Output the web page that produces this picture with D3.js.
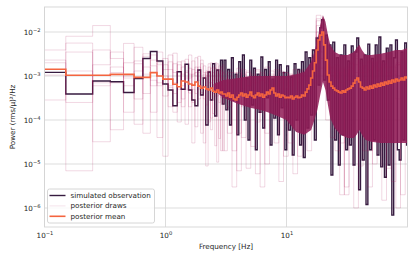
<!DOCTYPE html>
<html>
<head>
<meta charset="utf-8">
<script src="https://cdn.jsdelivr.net/npm/d3@7"></script>
<style>
  html, body { margin: 0; padding: 0; background: #fff; }
  svg { display: block; font-family: 'DejaVu Sans', sans-serif; }
</style>
</head>
<body>
<svg id="chart" width="415" height="260"></svg>
<script>
// ---- data (power in (rms/mean)^2/Hz) ----
// observation, f = 0.1 ... 3.0 Hz in steps of 0.1
const obsLow = [1.21e-3, 3.9e-4, 7.7e-4, 7.4e-4, 4.2e-4, 8.7e-4, 2.5e-3, 3.6e-3, 2.2e-3, 6.6e-4,
  4.8e-4, 2.1e-4, 1.25e-3, 5.0e-4, 1.85e-3, 4.8e-4, 2.85e-4, 2.1e-4, 1.37e-3, 3.7e-4,
  9e-4, 7.7e-5, 1.23e-3, 2.85e-4, 1.9e-3, 1.23e-4, 1.37e-3, 4.3e-4, 2.3e-3, 2.3e-4];
// observation above 3 Hz, log spaced up to 100 Hz
const obsHigh = [2.3e-3, 1.7e-4, 1.4e-3, 7.7e-5, 2.6e-3, 2.85e-4, 1.1e-3, 4.6e-5, 2.1e-3, 3.7e-4,
  3.0e-3, 1.0e-4, 9.0e-4, 3.5e-5, 2.3e-3, 2.2e-4, 1.5e-3, 2.1e-5, 1.1e-3, 1.5e-4,
  2.7e-3, 6.6e-5, 1.4e-3, 3.2e-4, 2.1e-3, 2.7e-5, 8.5e-4, 1.1e-4, 2.3e-3, 4.6e-5,
  1.8e-3, 1.9e-4, 1.2e-3, 2.1e-5, 1.7e-3, 5.9e-5, 9.5e-4, 1.6e-5, 1.9e-3, 1.0e-4,
  1.4e-3, 2.7e-5, 2.1e-3, 1.4e-5, 3.5e-3, 6.6e-5, 2.6e-3, 1.3e-4, 3.9e-3, 3.5e-5,
  7.3e-3, 6.2e-4, 1.25e-2, 1.9e-2, 8.1e-4, 8.5e-3, 2.85e-4, 5.1e-3, 5.6e-6, 5.9e-3,
  3.5e-5, 2.6e-3, 9.5e-6, 3.0e-3, 4.6e-5, 5.1e-3, 2.1e-5, 2.2e-3, 2.7e-5, 4.8e-3,
  9.5e-6, 3.5e-3, 7.3e-3, 2.6e-6, 2.4e-3, 1.23e-5, 3.0e-3, 1.2e-6, 5.3e-3, 2.1e-5,
  2.5e-3, 3.5e-5, 5.1e-3, 1.6e-5, 7.7e-3, 8.6e-6, 2.2e-3, 5.0e-6, 4.3e-3, 9.5e-6,
  5.1e-3, 6.9e-7, 2.6e-3, 6.6e-3, 2.1e-5, 1.23e-5, 3.5e-3, 3.5e-5, 5.6e-3, 2.7e-5];

const meanLow = [1.42e-3, 1.04e-3, 1.04e-3, 1.09e-3, 1.09e-3, 9.3e-4, 9.3e-4, 1.19e-3, 1.0e-3, 8.5e-4,
  8.5e-4, 6.5e-4, 5.7e-4, 7.7e-4, 7.3e-4, 6.6e-4, 6.2e-4, 7.3e-4, 5.9e-4, 5.3e-4,
  5.6e-4, 5.1e-4, 4.8e-4, 5.3e-4, 4.5e-4, 4.3e-4, 4.8e-4, 4.1e-4, 4.3e-4, 3.9e-4];
const meanHigh = [3.9e-4, 3.5e-4, 4.1e-4, 3.3e-4, 3.7e-4, 3.0e-4, 2.85e-4, 3.3e-4, 3.7e-4, 4.1e-4,
  3.5e-4, 3.9e-4, 3.3e-4, 3.7e-4, 4.3e-4, 3.5e-4, 3.2e-4, 3.7e-4, 4.1e-4, 3.5e-4,
  3.9e-4, 3.3e-4, 3.7e-4, 4.3e-4, 3.9e-4, 4.8e-4, 5.3e-4, 4.1e-4, 3.5e-4, 3.9e-4,
  3.3e-4, 3.7e-4, 3.5e-4, 3.2e-4, 3.3e-4, 3.2e-4, 3.5e-4, 3.0e-4, 3.3e-4, 3.5e-4,
  3.2e-4, 3.3e-4, 3.7e-4, 3.5e-4, 4.3e-4, 5.1e-4, 6.2e-4, 9.0e-4, 1.3e-3, 2.0e-3,
  3.9e-3, 6.6e-3, 8.5e-3, 1.0e-2, 5.1e-3, 2.3e-3, 1.05e-3, 7.3e-4, 5.9e-4, 5.3e-4,
  4.8e-4, 4.6e-4, 4.3e-4, 4.1e-4, 4.6e-4, 4.3e-4, 4.8e-4, 5.1e-4, 5.3e-4, 5.9e-4,
  6.9e-4, 8.1e-4, 9.0e-4, 7.3e-4, 5.6e-4, 5.3e-4, 4.8e-4, 5.6e-4, 5.1e-4, 5.9e-4,
  5.3e-4, 6.2e-4, 5.6e-4, 6.6e-4, 5.9e-4, 6.9e-4, 6.2e-4, 7.3e-4, 6.6e-4, 7.7e-4,
  6.9e-4, 8.1e-4, 7.3e-4, 8.5e-4, 7.7e-4, 8.1e-4, 9.0e-4, 8.1e-4, 9.5e-4, 9.0e-4];

// a few posterior draws: 30 values on the 0.1 Hz grid + 40 log spaced values above 3 Hz
const drawsLow = [
  [3.9e-3, 8e-3, 1.4e-2, 2.5e-3, 6e-4, 2.2e-3, 4e-4, 3.0e-3, 1.8e-3, 3.5e-4, 2.1e-3, 1.2e-3, 9e-5, 1.6e-3, 2.4e-3, 4.1e-4, 1.1e-3, 2.6e-3, 3.0e-4, 9e-4, 1.7e-3, 2.2e-4, 1.3e-3, 6e-5, 8e-4, 1.5e-3, 3.5e-4, 1.1e-3, 2.0e-5, 9e-4],
  [2.3e-3, 7e-6, 3.9e-3, 1.2e-3, 5.5e-3, 3e-4, 1.6e-3, 8e-4, 4e-5, 2.5e-3, 6e-4, 1.9e-3, 1.0e-3, 2e-4, 1.3e-3, 3.0e-3, 5e-4, 7e-5, 1.6e-3, 4.2e-4, 3e-5, 1.2e-3, 7e-4, 2.0e-3, 1.4e-4, 6e-4, 1.3e-3, 2.5e-4, 9e-4, 1.8e-3],
  [1.4e-3, 5.6e-3, 3.2e-5, 7e-4, 2.0e-3, 4.5e-3, 1.1e-3, 1.5e-4, 3.5e-3, 1.0e-3, 2.0e-4, 3.3e-3, 5e-4, 1.1e-3, 8e-5, 9e-4, 2.2e-3, 1.0e-3, 5e-4, 1.9e-3, 9e-4, 1.3e-3, 9e-5, 7e-4, 1.6e-3, 3.5e-4, 1.1e-5, 1.4e-3, 6e-4, 2.4e-4],
  [1.05e-3, 2.5e-4, 1.8e-3, 3.5e-3, 1.5e-4, 1.3e-3, 2.8e-3, 6e-4, 2.0e-3, 1.5e-5, 1.4e-3, 4e-4, 1.8e-3, 6e-4, 1.2e-3, 2e-4, 1.4e-3, 4e-4, 1.2e-3, 5e-5, 1.1e-3, 6e-4, 1.9e-3, 4.5e-4, 1.0e-3, 2.6e-5, 8e-4, 1.7e-3, 3.2e-4, 1.2e-3],
  [2.0e-3, 1.3e-3, 7e-4, 6e-5, 1.0e-3, 1.9e-3, 5e-5, 2.3e-3, 7e-4, 1.8e-3, 5.5e-4, 1.5e-4, 2.1e-3, 3e-4, 9e-4, 1.5e-3, 2.5e-4, 1.2e-3, 2.8e-3, 6e-4, 3e-4, 1.0e-3, 1.6e-3, 1.1e-4, 1.2e-3, 7e-4, 1.9e-3, 3.8e-5, 1.3e-3, 5e-4],
  [2.85e-4, 3.5e-3, 6e-4, 1.6e-3, 9e-4, 8e-5, 3.2e-3, 1.7e-3, 6e-4, 1.4e-3, 3.0e-3, 7e-4, 2.5e-4, 2.2e-3, 5e-4, 1.1e-3, 3e-5, 1.6e-3, 8e-4, 2.3e-3, 1.2e-3, 9e-6, 1.0e-3, 1.5e-3, 4e-4, 2.0e-3, 8e-4, 5e-4, 1.6e-3, 2e-5]
];
const drawsHigh = [
  [9e-4, 5e-5, 6e-4, 1.2e-3, 2e-4, 8e-6, 7e-4, 1.0e-3, 1.5e-4, 4e-4, 1.3e-3, 3e-5, 8e-4, 5e-4, 1.1e-3, 6e-5, 9e-4, 2e-4, 1.5e-3, 3e-3, 2.0e-2, 2.5e-3, 1.6e-3, 4e-5, 1.8e-3, 7e-4, 3e-6, 1.5e-3, 2.5e-3, 1.2e-3, 2e-5, 1.4e-3, 9e-4, 2.2e-3, 1.5e-6, 1.6e-3, 1.1e-3, 3e-4, 2.4e-3, 1.0e-3],
  [2e-5, 1.0e-3, 4e-4, 7e-6, 1.4e-3, 6e-4, 1.1e-3, 9e-5, 8e-4, 1.6e-3, 3e-4, 1.0e-3, 4e-6, 1.2e-3, 6e-4, 9e-4, 1.3e-3, 5e-5, 4e-4, 4e-3, 8e-3, 1.2e-2, 5e-4, 1.5e-3, 2e-5, 1.2e-3, 1.6e-3, 5e-4, 3e-3, 9e-6, 1.7e-3, 6e-4, 2.0e-3, 1.3e-3, 4e-5, 2.5e-3, 8e-4, 1.8e-3, 2e-6, 1.5e-3],
  [6e-4, 1.2e-3, 3e-6, 9e-4, 5e-4, 1.3e-3, 2.5e-5, 7e-4, 1.1e-3, 1e-5, 9e-4, 6e-4, 1.2e-3, 2e-4, 7e-4, 1.4e-3, 1.5e-5, 1.0e-3, 6e-4, 1.5e-3, 1.4e-2, 6e-3, 2.5e-3, 1.0e-3, 1.3e-3, 3e-5, 1.1e-3, 1.9e-3, 1.2e-3, 2.0e-3, 8e-4, 3e-6, 1.6e-3, 2.1e-3, 7e-4, 1.2e-3, 3e-5, 2.0e-3, 1.3e-3, 6e-4],
  [1.1e-3, 2e-4, 8e-4, 1.5e-3, 4e-5, 6e-4, 1.0e-3, 1.3e-3, 3e-6, 9e-4, 5e-4, 1.4e-3, 7e-4, 1.5e-5, 1.1e-3, 4e-4, 1.2e-3, 8e-4, 2e-5, 2.0e-3, 1.0e-2, 3.5e-3, 9e-4, 1.2e-3, 6e-4, 1.4e-3, 8e-4, 2.0e-3, 1.0e-6, 1.6e-3, 1.2e-3, 2.2e-3, 6e-5, 1.5e-3, 1.9e-3, 8e-6, 1.3e-3, 1.0e-3, 2.3e-3, 1.4e-3],
  [4e-4, 9e-4, 1.2e-3, 5e-5, 1.1e-3, 3e-4, 8e-4, 6e-6, 1.2e-3, 7e-4, 1.0e-3, 2.5e-4, 1.3e-3, 9e-4, 3e-5, 1.0e-3, 7e-4, 1.4e-3, 9e-4, 7e-4, 2.4e-2, 8e-3, 1.0e-4, 1.6e-3, 9e-4, 1.5e-3, 2e-6, 1.3e-3, 1.8e-3, 8e-4, 1.5e-3, 2.1e-3, 1.0e-5, 1.4e-3, 1.8e-3, 1.0e-3, 1.6e-3, 1e-6, 1.7e-3, 2.0e-3],
  [1.3e-3, 7e-4, 2e-5, 1.0e-3, 8e-4, 1.2e-3, 4e-4, 1.4e-3, 8e-4, 5e-5, 1.1e-3, 9e-4, 5e-4, 1.2e-3, 8e-4, 6e-6, 1.0e-3, 1.3e-3, 7e-4, 2.5e-3, 1.8e-2, 1.5e-3, 1.8e-3, 8e-4, 1.2e-3, 2e-6, 1.4e-3, 9e-4, 2.8e-3, 1.4e-3, 1.7e-3, 2e-5, 1.8e-3, 1.1e-3, 1.6e-3, 2.4e-3, 4e-6, 1.8e-3, 1.2e-3, 2.2e-3]
];

// where the many draws pile up at high frequency
const bandFreqs = [2.5, 3, 4, 5, 6, 7, 8, 10, 12, 14, 16, 17, 18, 19, 20, 21, 22, 23, 25, 28, 32, 36, 38, 40, 42, 45, 50, 60, 70, 80, 90, 100];
const bandTop = [6.6e-4, 8.1e-4, 9.0e-4, 1.0e-3, 1.0e-3, 1.0e-3, 1.0e-3, 1.0e-3, 1.1e-3, 1.23e-3, 2.1e-3, 3.5e-3, 6.6e-3, 1.44e-2, 2.4e-2, 1.7e-2, 8.5e-3, 5.1e-3, 3.5e-3, 3.0e-3, 3.0e-3, 3.5e-3, 4.3e-3, 5.1e-3, 3.9e-3, 3.0e-3, 3.0e-3, 3.2e-3, 3.5e-3, 3.9e-3, 3.9e-3, 4.3e-3];
const bandBottom = [4.8e-4, 3.2e-4, 2.3e-4, 1.9e-4, 1.7e-4, 1.5e-4, 1.3e-4, 1.0e-4, 5.3e-5, 4.6e-5, 5.9e-5, 1.0e-4, 1.7e-4, 3.7e-4, 7.3e-4, 4.8e-4, 2.2e-4, 1.1e-4, 6.6e-5, 4.6e-5, 3.9e-5, 3.9e-5, 4.6e-5, 5.9e-5, 4.6e-5, 3.5e-5, 3.2e-5, 3.0e-5, 3.0e-5, 3.0e-5, 3.0e-5, 3.0e-5];

const xTicks = [0.1, 1, 10];
const yTicks = [1e-6, 1e-5, 1e-4, 1e-3, 1e-2];
const legendLabels = ['simulated observation', 'posterior draws', 'posterior mean'];

// ---- grids ----
const lowFreqs = d3.range(1, 31).map(k => k / 10);
const geomGrid = (n, f0, f1) => d3.range(n).map(i => f0 * Math.pow(f1 / f0, i / (n - 1)));
const hiFreqs = geomGrid(obsHigh.length, 3.1, 100);
const drawHiFreqs = geomGrid(drawsHigh[0].length, 3.1, 100);

// ---- layout ----
const colors = { obs: '#371b40', draws: '#ad1759', band: '#8f1a55', mean: '#f4643f', grid: '#d4d4d4', text: '#262626' };
const margin = { left: 44.5, right: 407.5, top: 7, bottom: 227 };
const svg = d3.select('#chart');

const x = d3.scaleLog().domain([0.1, 100]).range([margin.left, margin.right]);
const y = d3.scaleLog().domain([Math.pow(10, -6.432), Math.pow(10, -1.432)]).range([margin.bottom, margin.top]);

svg.append('defs').append('clipPath').attr('id', 'plotClip')
  .append('rect')
  .attr('x', margin.left).attr('y', margin.top)
  .attr('width', margin.right - margin.left).attr('height', margin.bottom - margin.top);

// grid
const grid = svg.append('g');
grid.selectAll('.gx').data(xTicks).enter().append('line')
  .attr('x1', d => x(d)).attr('x2', d => x(d))
  .attr('y1', margin.top).attr('y2', margin.bottom)
  .attr('stroke', colors.grid).attr('stroke-width', 0.8);
grid.selectAll('.gy').data(yTicks).enter().append('line')
  .attr('x1', margin.left).attr('x2', margin.right)
  .attr('y1', d => y(d)).attr('y2', d => y(d))
  .attr('stroke', colors.grid).attr('stroke-width', 0.8);

// steps-mid helper: each value covers halfway to its neighbours
function stepPoints(freqs, values) {
  const pts = [];
  freqs.forEach((f, i) => {
    const left = i === 0 ? f : (freqs[i - 1] + f) / 2;
    const right = i === freqs.length - 1 ? f : (f + freqs[i + 1]) / 2;
    pts.push([left, values[i]], [right, values[i]]);
  });
  return pts;
}
const line = d3.line().x(d => x(d[0])).y(d => y(d[1]));

const plot = svg.append('g').attr('clip-path', 'url(#plotClip)');

// observation
plot.append('path')
  .attr('d', line(stepPoints(lowFreqs.concat(hiFreqs), obsLow.concat(obsHigh))))
  .attr('fill', 'none')
  .attr('stroke', colors.obs)
  .attr('stroke-width', 1.4)
  .attr('stroke-linejoin', 'miter');

// posterior draws
const drawFreqs = lowFreqs.concat(drawHiFreqs);
drawsLow.forEach((lowVals, k) => {
  plot.append('path')
    .attr('d', line(stepPoints(drawFreqs, lowVals.concat(drawsHigh[k]))))
    .attr('fill', 'none')
    .attr('stroke', colors.draws)
    .attr('stroke-opacity', 0.17)
    .attr('stroke-width', 1);
});

const band = bandFreqs.map((f, i) => ({ f, hi: bandTop[i], lo: bandBottom[i] }));
plot.append('path')
  .attr('d', d3.area().x(d => x(d.f)).y0(d => y(d.lo)).y1(d => y(d.hi))(band))
  .attr('fill', colors.band)
  .attr('fill-opacity', 0.85);

// posterior mean
plot.append('path')
  .attr('d', line(stepPoints(lowFreqs.concat(hiFreqs), meanLow.concat(meanHigh))))
  .attr('fill', 'none')
  .attr('stroke', colors.mean)
  .attr('stroke-width', 1.6);

// frame
svg.append('rect')
  .attr('x', margin.left).attr('y', margin.top)
  .attr('width', margin.right - margin.left).attr('height', margin.bottom - margin.top)
  .attr('fill', 'none').attr('stroke', colors.grid).attr('stroke-width', 0.9);

// tick labels as 10^n
const supLabel = (sel, d) => {
  const exp = Math.round(Math.log10(d));
  sel.text('10');
  sel.append('tspan')
    .attr('dy', '-0.55em')
    .attr('font-size', '0.72em')
    .text(exp < 0 ? '\u2212' + Math.abs(exp) : String(exp));
};

const xAxis = svg.append('g')
  .attr('transform', `translate(0,${margin.bottom})`)
  .call(d3.axisBottom(x).tickValues(xTicks).tickSize(0).tickPadding(6).tickFormat(() => ''));
xAxis.select('.domain').remove();
xAxis.selectAll('text')
  .attr('font-size', 7.2).attr('fill', colors.text).attr('font-family', 'DejaVu Sans')
  .each(function (d) { supLabel(d3.select(this), d); });

const yAxis = svg.append('g')
  .attr('transform', `translate(${margin.left},0)`)
  .call(d3.axisLeft(y).tickValues(yTicks).tickSize(0).tickPadding(4).tickFormat(() => ''));
yAxis.select('.domain').remove();
yAxis.selectAll('text')
  .attr('font-size', 7.2).attr('fill', colors.text).attr('font-family', 'DejaVu Sans')
  .each(function (d) { supLabel(d3.select(this), d); });

// axis titles
svg.append('text')
  .attr('x', (margin.left + margin.right) / 2).attr('y', 249)
  .attr('text-anchor', 'middle')
  .attr('font-size', 7.2).attr('fill', colors.text)
  .text('Frequency [Hz]');

svg.append('text')
  .attr('transform', `translate(15,${(margin.top + margin.bottom) / 2}) rotate(-90)`)
  .attr('text-anchor', 'middle')
  .attr('font-size', 7.2).attr('fill', colors.text)
  .text('Power (rms/\u03bc)\u00b2/Hz');

// legend
const legend = svg.append('g').attr('transform', 'translate(47.5,189)');
legend.append('rect')
  .attr('width', 107).attr('height', 34).attr('rx', 2)
  .attr('fill', '#fff').attr('fill-opacity', 0.8)
  .attr('stroke', '#cccccc').attr('stroke-width', 0.8);
const legendStyles = [
  { color: colors.obs, opacity: 1, width: 1.4 },
  { color: colors.draws, opacity: 0.12, width: 1 },
  { color: colors.mean, opacity: 1, width: 1.6 }
];
const rows = legend.selectAll('.row').data(legendLabels).enter().append('g')
  .attr('transform', (d, i) => `translate(0,${6.5 + i * 10.4})`);
rows.append('line')
  .attr('x1', 2).attr('x2', 18)
  .attr('stroke', (d, i) => legendStyles[i].color)
  .attr('stroke-opacity', (d, i) => legendStyles[i].opacity)
  .attr('stroke-width', (d, i) => legendStyles[i].width);
rows.append('text')
  .attr('x', 23).attr('dy', '0.35em')
  .attr('font-size', 7.2).attr('fill', colors.text)
  .text(d => d);
</script>
</body>
</html>
